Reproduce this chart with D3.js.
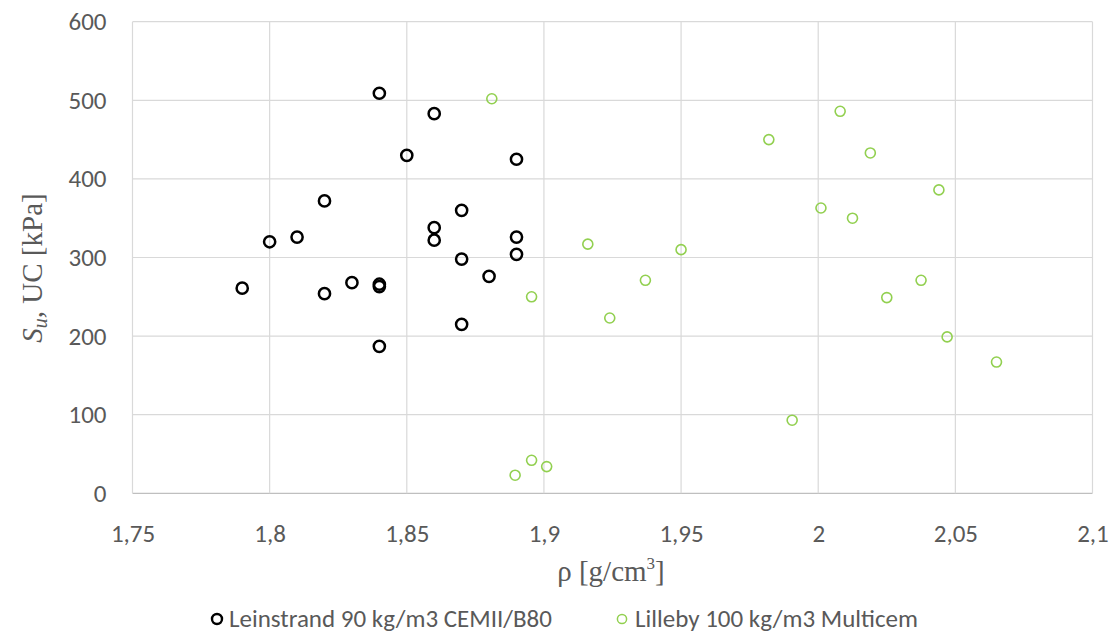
<!DOCTYPE html>
<html><head><meta charset="utf-8">
<script src="https://cdn.jsdelivr.net/npm/d3@7"></script>
<style>body{margin:0;background:#fff}</style>
</head><body>
<svg id="c" width="1118" height="637"></svg>
<script>
const leinX = [1.84,1.86,1.85,1.89,1.82,1.87,1.86,1.86,1.80,1.81,1.89,1.89,1.87,1.88,1.79,1.82,1.83,1.84,1.84,1.87,1.84];
const leinY = [509,483,430,425,372,360,338,322,320,326,326,304,298,276,261,254,268,266,263,215,187];
const lillX = [1.881,1.916,1.950,1.937,1.8955,1.924,1.8955,1.901,1.8895,2.008,1.982,2.019,2.044,2.001,2.0125,2.0375,2.025,2.047,2.065,1.9905];
const lillY = [502,317,310,271,250,223,42,34,23,486,450,433,386,363,350,271,249,199,167,93];
const xTicks = [1.75,1.8,1.85,1.9,1.95,2.0,2.05,2.1];
const yTicks = [0,100,200,300,400,500,600];
const seriesNames = ["Leinstrand 90 kg/m3 CEMII/B80","Lilleby 100 kg/m3 Multicem"];

const svg = d3.select("#c");
const x = d3.scaleLinear().domain([1.75,2.1]).range([132.5,1092.5]);
const y = d3.scaleLinear().domain([0,600]).range([493.3,21.7]);
const fmt = d => String(+d.toFixed(2)).replace(".", ",");
const tickFont = "Carlito, Calibri, Lato, 'Open Sans', sans-serif";
const serif = "'Liberation Serif', 'DejaVu Serif', serif";

// gridlines
svg.append("g").selectAll("line").data(yTicks).join("line")
  .attr("x1", x(1.75)).attr("x2", x(2.1)).attr("y1", d=>y(d)).attr("y2", d=>y(d))
  .attr("stroke", d=> d===0 ? "#bfbfbf" : "#d9d9d9").attr("stroke-width", 1.2);
svg.append("g").selectAll("line").data(xTicks).join("line")
  .attr("x1", d=>x(d)).attr("x2", d=>x(d)).attr("y1", y(0)).attr("y2", y(600))
  .attr("stroke", "#d9d9d9").attr("stroke-width", 1.2);

// axes labels via d3 axes
const xa = svg.append("g").attr("transform", `translate(0,${y(0)})`)
  .call(d3.axisBottom(x).tickValues(xTicks).tickFormat(fmt).tickSize(0).tickPadding(31));
const ya = svg.append("g").attr("transform", `translate(${x(1.75)},0)`)
  .call(d3.axisLeft(y).tickValues(yTicks).tickSize(0).tickPadding(26));
[xa, ya].forEach(a => {
  a.select(".domain").remove();
  a.selectAll("text").attr("font-family", tickFont).attr("font-size", 25).attr("fill", "#595959");
});

// points
svg.append("g").selectAll("circle").data(leinX.map((d,i)=>[d,leinY[i]])).join("circle")
  .attr("cx", d=>x(d[0])).attr("cy", d=>y(d[1])).attr("r", 5.6)
  .attr("fill", "none").attr("stroke", "#000").attr("stroke-width", 2.5);
svg.append("g").selectAll("circle").data(lillX.map((d,i)=>[d,lillY[i]])).join("circle")
  .attr("cx", d=>x(d[0])).attr("cy", d=>y(d[1])).attr("r", 5.0)
  .attr("fill", "none").attr("stroke", "#92D050").attr("stroke-width", 1.6);

// axis titles
const xt = svg.append("text").attr("x", 611).attr("y", 581).attr("text-anchor", "middle")
  .attr("font-family", serif).attr("font-size", 29).attr("fill", "#595959");
xt.append("tspan").text("ρ [g/cm");
xt.append("tspan").text("3").attr("font-size", 17).attr("dy", -12);
xt.append("tspan").text("]").attr("dy", 12);

const yt = svg.append("text").attr("transform", "translate(42,268) rotate(-90)").attr("text-anchor", "middle")
  .attr("font-family", serif).attr("font-size", 29).attr("fill", "#595959");
yt.append("tspan").text("S").attr("font-style", "italic");
yt.append("tspan").text("u").attr("font-style", "italic").attr("font-size", 20).attr("dy", 5);
yt.append("tspan").text(", UC [kPa]").attr("dy", -5);

// legend
const leg = svg.append("g");
leg.append("circle").attr("cx", 217).attr("cy", 619).attr("r", 5).attr("fill","none").attr("stroke","#000").attr("stroke-width",2.4);
leg.append("text").attr("x", 229).attr("y", 627).text(seriesNames[0])
  .attr("font-family", tickFont).attr("font-size", 25).attr("fill", "#595959");
leg.append("circle").attr("cx", 622).attr("cy", 619).attr("r", 4.6).attr("fill","none").attr("stroke","#92D050").attr("stroke-width",1.5);
leg.append("text").attr("x", 635).attr("y", 627).text(seriesNames[1])
  .attr("font-family", tickFont).attr("font-size", 25).attr("fill", "#595959");
</script>
</body></html>
